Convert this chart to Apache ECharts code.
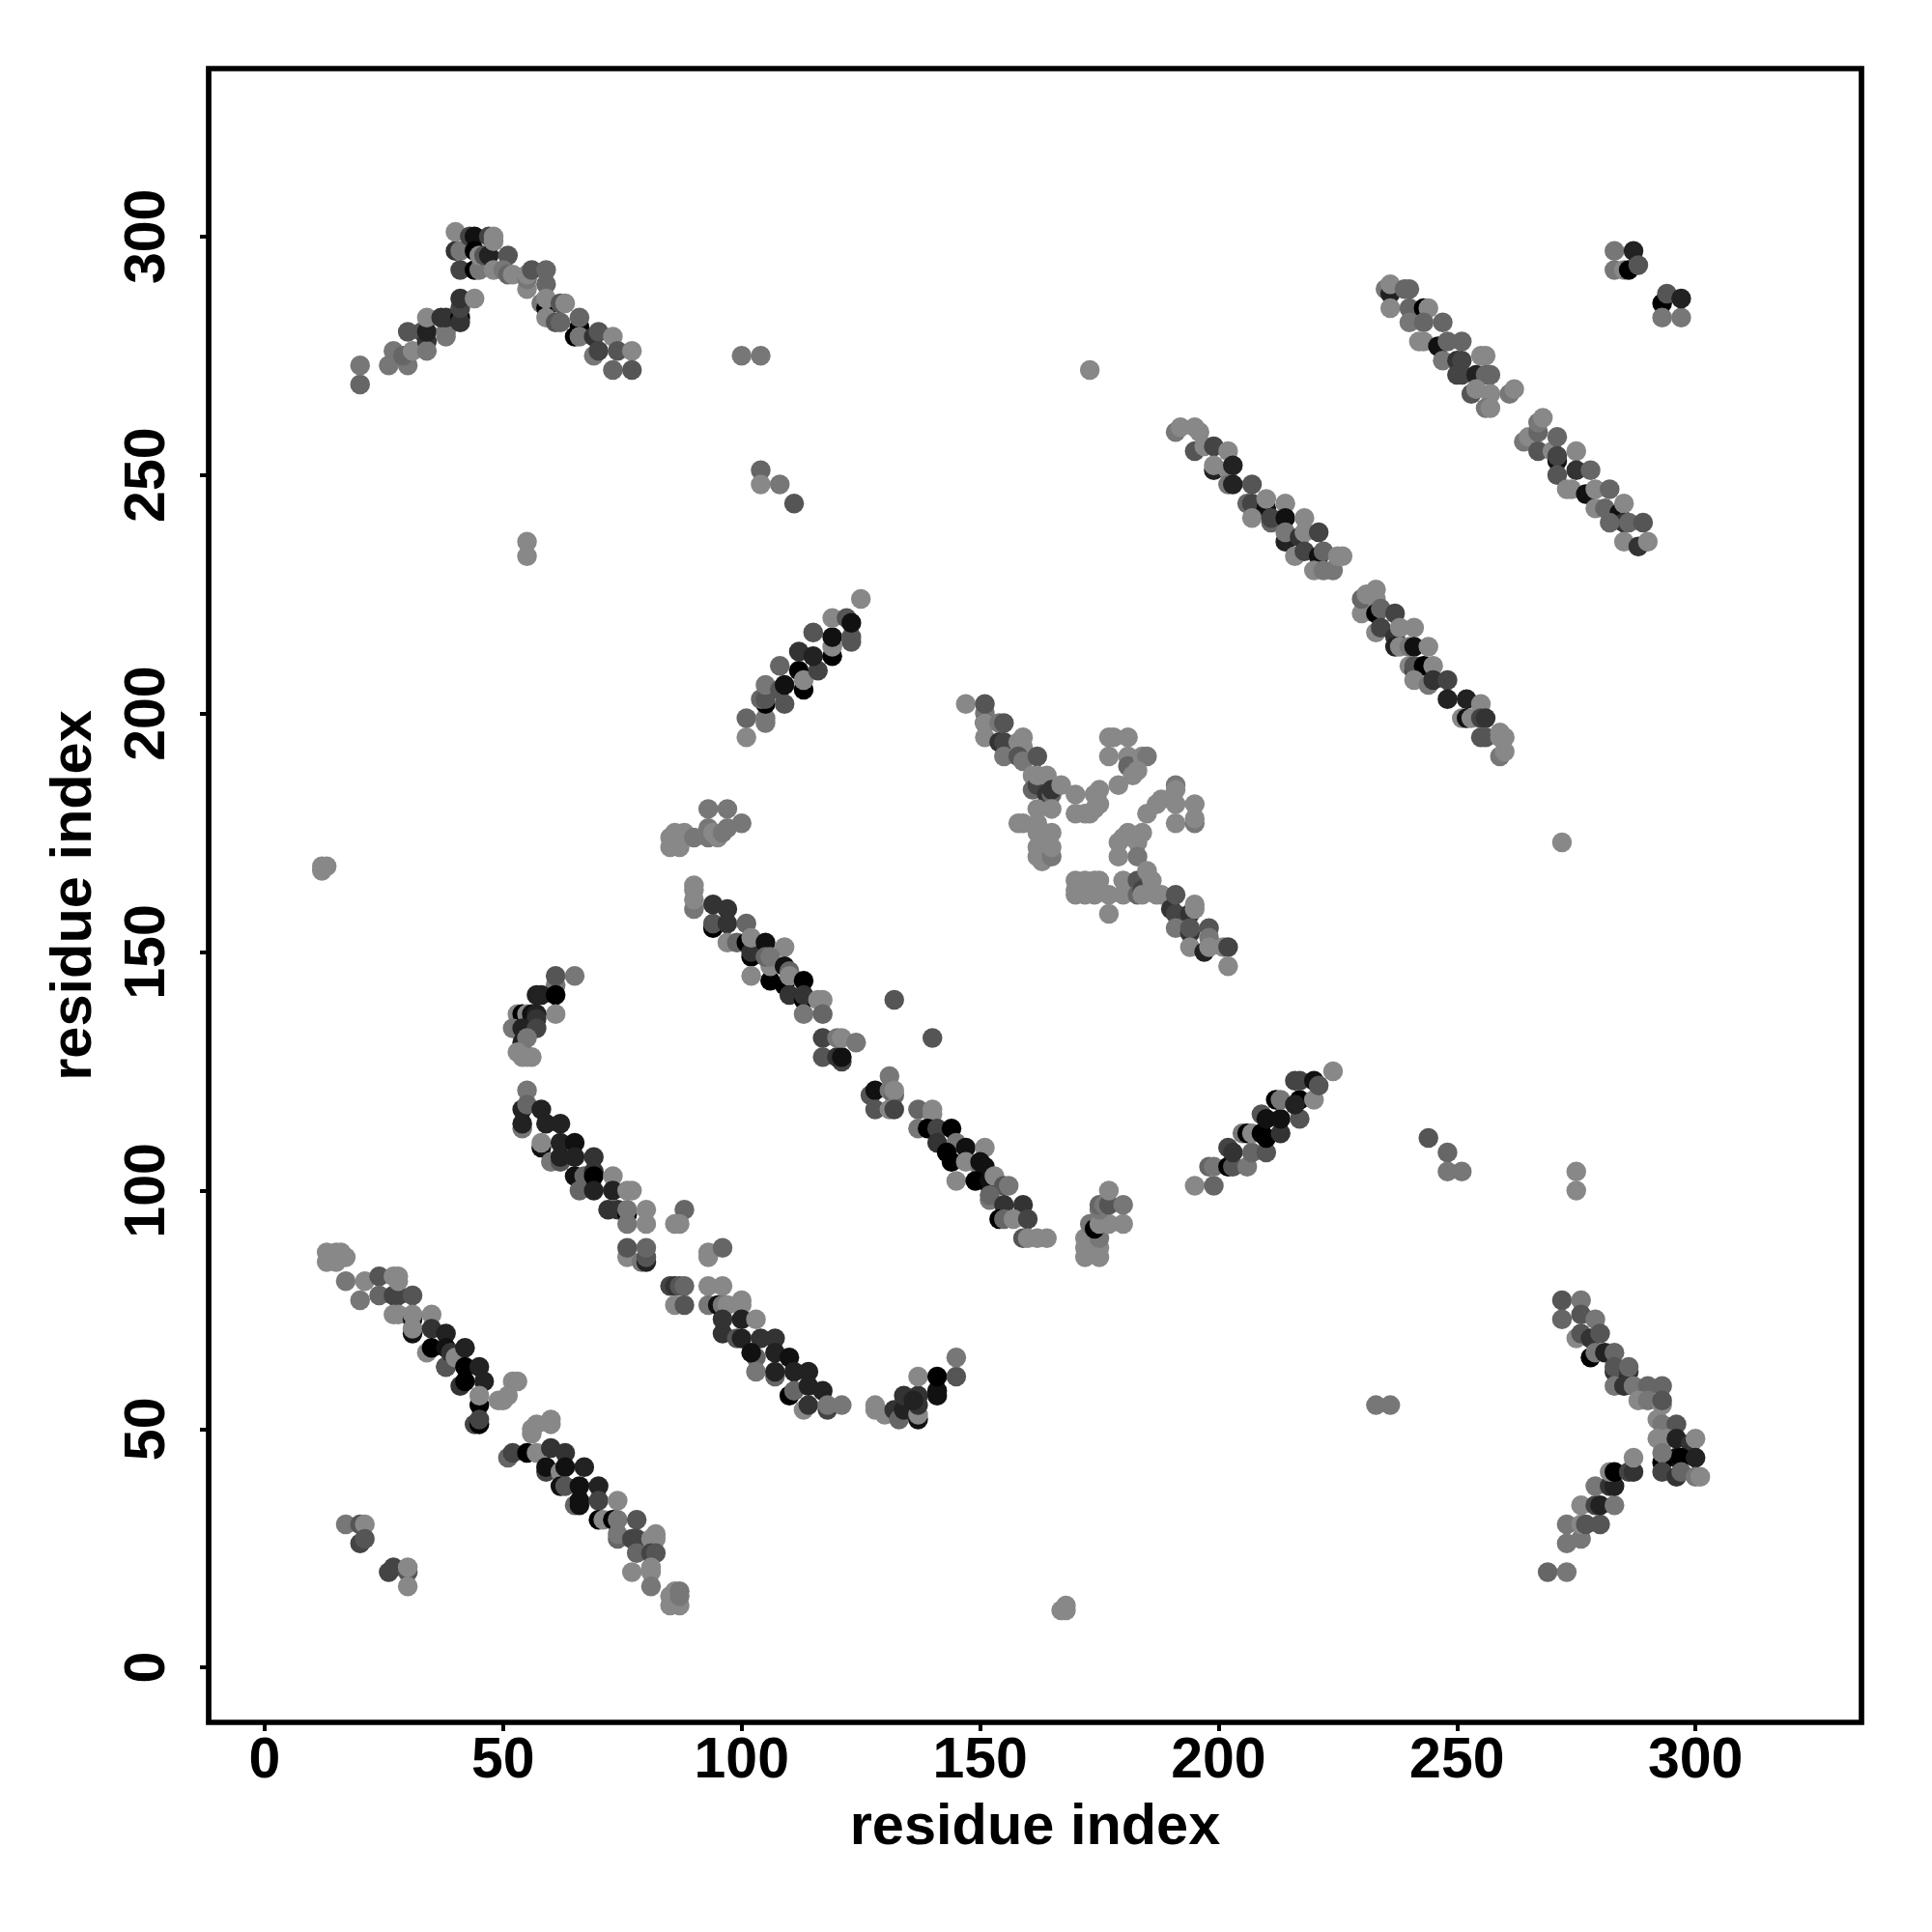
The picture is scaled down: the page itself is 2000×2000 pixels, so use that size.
<!DOCTYPE html>
<html><head><meta charset="utf-8">
<script src="https://cdn.jsdelivr.net/npm/echarts@6/dist/echarts.min.js"></script>
<style>html,body{margin:0;background:#fff}#c{width:2000px;height:2000px}</style></head>
<body><div id="c"></div>
<script>
// Each point: [residue x, residue y, shade 0 (black) .. 8 (mid grey)], listed in drawing order.
const tickValues=[0,50,100,150,200,250,300];
const xName='residue index', yName='residue index';
const strandLowerA=[[13,87,8],[13,85,8],[15,85,8],[15,87,8],[16,87,8],[17,86,8],[17,81,7],[21,81,8],[20,77,7],[24,82,5],[24,78,6],
[27,78,4],[28,78,4],[27,82,8],[28,82,8],[28,81,8],[27,74,8],[28,74,8],[31,78,5],[31,73,1],[31,74,8],[35,74,8],[31,70,1],[31,71,8],
[34,66,8],[35,71,3],[38,70,2],[35,67,0],[38,63,0],[38,63,5],[38,67,1],[39,66,3],[40,65,8],[42,67,2],[41,59,3],[42,63,0],[45,63,2],[42,60,0],[46,60,2],
[45,55,0],[45,57,8],[49,56,8],[50,56,8],[51,57,8],[52,60,8],[53,60,8],[44,51,4],[45,51,0],[45,52,4]];
const strandLowerB=[[51,44,6],[52,45,4],[55,45,0],[57,45,8],[56,49,8],[56,50,8],[57,51,8],[60,52,8],[60,51,8],[60,46,3],[63,45,3],[59,41,4],[59,42,1],
[62,41,8],[63,42,1],[67,42,2],[62,38,1],[63,38,5],[66,38,1],[70,38,2],[65,34,6],[66,34,1],[66,35,1],[70,35,4],[74,35,8],[70,31,0],[71,31,8],[73,31,0],[74,31,7],[78,31,5],
[74,27,6],[74,28,7],[77,27,4],[78,27,4],[81,27,8],[82,27,8],[82,28,8],[78,24,6],[81,24,4],[82,24,5],[77,20,8],[81,20,8],[81,21,8],[81,17,7],
[85,13,8],[87,13,8],[85,15,8],[86,16,8],[87,15,7],[87,16,7]];
const cornerLowerLeft=[[17,30,7],[20,30,5],[21,30,8],[20,26,4],[21,27,5],[26,20,4],[27,21,4],[30,20,5],[30,21,8],[30,17,8]];
const hookNear55=[[61,143,7],[61,145,5],[65,145,7],[57,141,2],[58,141,2],[61,141,0],[61,137,8],[53,137,8],[54,137,0],[55,137,8],[56,137,1],[57,137,2],[57,136,3],
[52,134,7],[54,134,2],[57,134,4],[54,131,2],[55,132,7],[53,129,8],[54,128,8],[55,128,8],[56,128,8]];
const strandMidA=[[55,121,7],[54,117,2],[55,118,6],[58,117,2],[54,113,7],[54,114,2],[59,114,2],[62,114,2],[58,109,1],[58,110,8],[62,110,2],[65,110,1],
[60,106,7],[62,106,5],[62,107,2],[65,107,2],[69,107,3],[65,103,1],[67,103,6],[69,104,3],[69,103,0],[73,103,8],[66,100,6],[69,100,2],[73,100,2],[76,100,8],[77,100,8],
[72,96,3],[74,96,3],[76,95,0],[76,96,7],[80,96,8],[76,93,7],[80,93,8],[88,96,6],[86,93,8],[87,93,8],
[76,86,8],[76,88,5],[79,85,7],[80,85,2],[80,86,5],[80,88,6],[93,86,8],[93,87,8],[96,88,6]];
const strandMidB=[[85,80,4],[86,80,3],[87,80,5],[88,80,6],[86,76,8],[88,76,5],[93,80,8],[96,80,8],[93,76,7],[95,76,1],[96,76,7],[97,76,8],[100,77,8],[100,76,8],
[96,70,3],[96,73,3],[100,73,2],[103,73,8],[99,69,5],[100,69,2],[104,69,3],[107,69,3],[103,65,6],[102,66,1],[107,66,2],[110,65,1],
[103,62,7],[107,61,6],[107,62,2],[111,62,2],[114,62,2],[110,57,0],[111,58,6],[114,59,2],[117,58,2],[113,54,8],[114,55,3],[118,54,4],[118,55,7],[121,55,7]];
const hookNear135=[[128,55,8],[128,54,8],[130,53,8],[132,54,3],[133,52,6],[134,54,2],[134,57,3],[137,52,1],[137,53,8],[137,57,3],[137,55,3],[136,56,2],[137,61,8],[141,58,1],[141,57,1],[141,61,0],[145,61,5],[145,65,7]];
const strandUpperA=[[90,159,7],[90,161,8],[90,163,8],[90,164,8],[94,155,0],[94,156,5],[94,160,3],[97,159,3],[97,156,3],[101,156,6],[97,152,8],[99,152,6],[101,152,0],[102,149,0],[102,150,3],[102,153,8],[105,152,1],[109,151,8],
[102,145,8],[106,144,0],[106,147,8],[105,149,6],[106,149,7],[109,147,1],[110,146,6],[109,143,0],[110,145,8],[113,144,0],[110,141,3],[113,140,0],[113,141,3],[116,140,8],[117,140,8],[113,137,7],[117,137,6],
[117,132,4],[117,128,5],[121,127,4],[120,128,3],[121,128,1],[120,132,7],[121,132,8],[124,131,7],[132,140,5],[140,132,5]];
const strandUpperB=[[131,124,7],[127,120,5],[128,121,1],[131,121,7],[132,120,6],[132,121,8],[128,117,5],[131,117,8],[132,117,4],[137,117,6],[140,117,8],[140,116,8],
[137,113,7],[139,113,0],[141,113,4],[144,113,0],[141,110,3],[145,110,7],[143,108,0],[147,109,1],[151,109,8],[144,106,0],[147,106,8],[150,105,7],[150,106,1],[151,105,1],[145,102,8],
[149,102,0],[152,101,0],[152,102,1],[153,103,8],[155,101,5],[156,101,7],[152,98,7],[152,99,6],[155,97,3],[159,97,3],[154,94,0],[155,94,6],[157,94,8],[160,94,4],
[159,90,5],[160,90,8],[162,90,8],[164,90,8]];
const clusterNear175=[[172,86,8],[175,86,8],[173,87,8],[172,88,8],[175,88,8],[172,90,8],[175,90,7],[173,93,7],[174,92,0],[175,93,8],[177,93,8],[180,93,8],[175,96,7],[175,97,6],[176,97,7],[177,97,5],[180,97,7],[177,100,8]];
const strandRise205=[[195,101,8],[199,101,6],[198,105,6],[199,105,7],[202,105,0],[203,105,5],[206,105,7],[202,109,4],[203,108,3],[207,108,6],[210,108,5],[205,112,7],[206,112,0],[207,112,8],[209,112,0],[209,116,5],[210,111,0],[213,112,3],
[210,115,1],[213,115,1],[217,115,5],[212,119,0],[213,119,7],[217,119,0],[216,118,2],[216,123,4],[217,123,4],[220,119,8],[220,123,1],[221,122,5],[224,125,8]];
const strandRise115=[[101,195,8],[101,199,6],[105,198,7],[105,199,7],[105,202,0],[104,203,6],[105,203,5],[109,202,5],[105,206,7],[108,205,5],[109,206,1],[108,210,6],[112,209,0],[113,205,0],[113,207,8],[116,209,4],[112,213,3],[115,212,2],[115,217,5],[119,212,0],[119,214,8],[119,216,1],
[119,220,8],[123,215,5],[123,216,5],[122,220,5],[123,219,1],[125,224,8]];
const archTopLeft=[[20,269,6],[20,273,7],[26,273,7],[30,273,7],[27,276,7],[29,275,6],[31,276,8],[30,280,5],[33,280,5],[34,278,3],[34,276,7],[34,280,2],[34,283,8],[38,280,7],[38,279,7],[37,283,3],[38,283,3],[41,283,0],[41,282,3],[41,285,4],[41,287,3],[44,287,8],
[40,297,3],[40,301,8],[41,297,7],[41,293,4],[44,293,0],[45,293,7],[43,300,4],[44,300,1],[44,297,0],[45,296,8],[46,296,5],[47,300,4],[47,296,2],[48,299,8],[48,300,8],[48,293,8],[51,296,5],[50,293,7],[51,292,6],[52,292,8],
[55,289,8],[55,291,7],[55,292,8],[56,293,5],[59,293,6],[59,290,6],[58,286,7],[59,285,0],[59,287,8],[62,286,5],[63,286,8],[59,283,8],[61,282,5],[62,282,6],[66,281,0],[66,283,6],[65,279,0],[66,279,7],
[69,279,3],[70,280,5],[73,279,8],[69,275,7],[70,276,4],[74,276,5],[73,272,6],[77,276,8],[77,272,5]];
const strandRightA=[[191,259,7],[192,260,8],[195,260,8],[196,259,8],[195,255,5],[197,256,8],[199,256,4],[199,251,2],[199,252,8],[202,255,8],[202,251,8],[203,252,2],[202,248,7],[203,248,2],[207,248,5],[206,244,6],[207,244,4],[210,243,1],[210,245,8],
[207,241,8],[211,240,6],[211,241,4],[214,244,8],[214,241,1],[218,241,8],[214,236,2],[214,238,7],[217,237,3],[218,238,8],[221,238,4],[216,233,8],[218,234,4],[221,233,1],[222,234,6],[220,230,8],[222,230,7],[224,230,7],[225,233,8],[226,233,8]];
const strandRightB=[[230,221,8],[230,224,6],[231,225,8],[233,226,8],[233,224,8],[233,221,0],[234,222,6],[237,221,4],[233,217,8],[234,218,4],[237,216,3],[238,218,8],[241,218,8],[237,214,2],[238,214,8],[240,214,7],[241,214,1],[244,214,8],
[240,210,8],[241,209,4],[241,210,5],[243,210,0],[245,210,8],[241,207,8],[244,206,7],[245,207,3],[248,207,4],[248,203,2],[251,199,8],[252,203,2],[252,199,1],[253,199,8],[255,202,8],[255,199,4],[256,199,3],[255,195,5],[256,195,5],[259,195,8],[259,196,8],[260,195,8],[259,191,7],[260,192,8]];
const strandTopRightA=[[235,289,7],[236,288,2],[236,290,8],[236,285,8],[239,289,6],[240,289,6],[240,285,6],[240,282,7],[243,285,0],[244,285,8],[243,282,6],[247,282,6],[242,278,8],[243,278,8],[246,277,1],[248,278,6],[251,278,6],[247,274,7],
[250,274,3],[251,274,4],[255,275,8],[256,275,8],[250,271,4],[251,271,4],[254,271,2],[256,271,6],[257,271,6],[253,267,5],[254,268,8],[257,267,8],[261,267,7],[262,268,8],[256,264,7],[257,264,8]];
const strandTopRightB=[[264,257,7],[265,258,8],[267,255,5],[267,259,6],[267,261,7],[268,262,8],[270,255,8],[271,258,6],[271,253,1],[271,254,4],[271,250,5],[275,255,8],[275,251,3],[278,251,6],[273,247,8],[274,247,8],[277,246,1],[279,247,8],[282,247,6],
[279,243,8],[281,243,6],[284,242,1],[285,244,8],[285,240,3],[282,240,6],[286,240,6],[289,240,5],[285,236,8],[288,235,3],[290,236,8]];
const cornerTopRight=[[283,297,7],[287,297,2],[283,293,7],[285,293,8],[286,293,0],[288,294,5],[293,286,0],[294,288,5],[293,283,7],[297,283,7],[297,287,2]];
const tailLowerRightA=[[272,77,5],[276,77,7],[272,73,6],[276,74,5],[279,73,7],[275,69,8],[276,70,5],[278,69,3],[280,70,5],[278,65,0],[279,66,7],[281,66,2],[283,66,6],[283,62,3],[283,63,5],[286,62,3],[286,63,6],[283,59,7],[285,59,3],[287,59,7],[290,59,6],[293,59,6],
[288,56,8],[290,56,7],[293,55,8],[293,56,5],[292,52,8],[293,51,7],[296,51,5],[292,48,8],[294,48,8],[296,48,2],[296,44,1],[299,47,3],[300,48,8],[293,43,0],[293,45,7],[297,44,0],[300,44,2],[293,41,4],[296,40,3],[297,41,6],[300,40,7],[301,40,8]];
const tailLowerRightB=[[269,20,6],[273,20,7],[273,26,7],[276,27,7],[273,30,7],[276,30,8],[277,30,5],[280,30,5],[276,34,8],[279,34,4],[280,34,2],[283,34,7],[279,38,7],[282,38,3],[283,38,2],[282,41,8],[283,41,0],[286,41,4],[287,41,3],[287,44,8]];
const centreCross=[[147,202,8],[151,200,7],[151,202,5],[151,198,1],[151,198,8],[151,195,8],[154,198,7],[155,198,5],[154,194,3],[155,194,4],[155,191,7],[158,194,8],[159,193,8],[159,195,8],[158,191,5],[159,190,7],[162,191,5],
[161,187,8],[161,184,6],[162,185,4],[162,187,8],[164,183,3],[165,183,6],[164,187,8],[165,184,3],[167,185,8],[162,180,8],[165,180,8],[170,183,8],[170,179,8],[172,179,8],[173,179,8],[174,180,8],[174,183,8],[175,181,8],[175,184,8],
[158,177,8],[159,177,8],[162,177,8],[162,175,8],[162,172,8],[162,170,8],[163,169,8],[165,170,7],[165,172,8],[165,175,8],[164,174,8],
[177,195,8],[178,195,8],[181,195,8],[177,191,8],[181,191,8],[181,189,6],[184,191,8],[185,191,7],[182,187,8],[183,188,8],[179,185,8],
[191,185,7],[191,184,8],[188,182,8],[187,181,8],[185,179,8],[191,181,8],[195,181,8],[191,177,8],[195,177,7],[195,178,8],
[179,170,8],[179,173,8],[180,174,8],[181,175,8],[183,173,8],[184,175,8],[183,170,7],
[170,163,8],[170,165,8],[170,162,8],[172,165,8],[174,165,8],[175,165,8],[172,162,8],[174,162,8],[177,162,8],[177,158,8],[180,165,8],[180,162,8],
[183,165,5],[183,162,6],[184,163,4],[184,162,8],[185,167,8],[186,165,8],[187,162,8],[188,162,8],[190,159,3],[191,158,4],[191,162,5],[194,158,3],[195,159,8],[195,160,8],[191,155,7],[194,154,3],[194,155,5],[198,155,5],[198,153,7],
[194,151,8],[197,150,2],[198,151,8],[201,151,8],[202,151,4],[202,147,8]];
const isolated=[[100,275,7],[104,275,7],[104,251,6],[104,248,8],[108,248,7],[111,244,5],[55,236,8],[55,233,8],[173,272,8],[12,167,8],[13,168,8],[12,168,8],
[85,172,8],[85,174,8],[86,175,8],[87,172,8],[88,175,8],[87,174,8],[90,174,7],[93,174,7],[93,176,7],[93,180,7],[94,175,8],[95,174,8],[96,175,7],[97,176,7],[97,180,7],[100,177,7],
[233,55,7],[236,55,7],[244,111,5],[248,108,6],[248,104,7],[251,104,7],[275,104,8],[275,100,8],[272,173,8],[167,12,8],[168,12,8],[168,13,8]];
const clusters=[strandLowerA,strandLowerB,cornerLowerLeft,hookNear55,strandMidA,strandMidB,hookNear135,strandUpperA,strandUpperB,clusterNear175,strandRise205,strandRise115,archTopLeft,strandRightA,strandRightB,strandTopRightA,strandTopRightB,cornerTopRight,tailLowerRightA,tailLowerRightB,centreCross,isolated];
const shade=s=>{const h=(s*17).toString(16).padStart(2,'0');return '#'+h+h+h;};
const axisBase=(name,gap)=>({
  type:'value',min:-11.75,max:334.8,name:name,nameLocation:'middle',nameGap:gap,
  nameTextStyle:{fontFamily:'Liberation Sans',fontWeight:'bold',fontSize:59.5,color:'#000'},
  axisLine:{show:false,onZero:false},splitLine:{show:false},
  axisTick:{show:true,inside:false,length:9,lineStyle:{color:'#000',width:4},customValues:tickValues},
  axisLabel:{fontFamily:'Liberation Sans',fontWeight:'bold',fontSize:59,color:'#000',margin:11,customValues:tickValues}
});
const xa=axisBase(xName,80);
const ya=axisBase(yName,108);
ya.min=-11.5;ya.max=335.2;
ya.axisLabel=Object.assign({},ya.axisLabel,{rotate:90,margin:33});
const chart=echarts.init(document.getElementById('c'),null,{renderer:'canvas'});
chart.setOption({
  animation:false,backgroundColor:'#fff',
  grid:{left:216,top:71,width:1711,height:1712,show:true,borderColor:'#000',borderWidth:5.7,backgroundColor:'transparent'},
  xAxis:xa,yAxis:ya,
  series:clusters.map(c=>({type:'scatter',symbol:'circle',symbolSize:20.5,clip:false,silent:true,
    data:c.map(p=>({value:[p[0],p[1]],itemStyle:{color:shade(p[2]),opacity:1}}))}))
});
</script></body></html>
